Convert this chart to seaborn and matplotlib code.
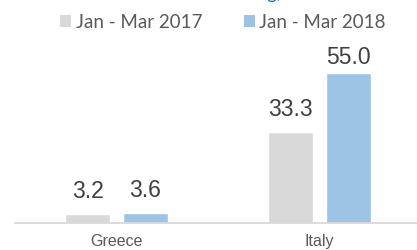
import matplotlib
matplotlib.use("Agg")
import matplotlib.pyplot as plt
import seaborn as sns
import pandas as pd
from matplotlib.patches import Patch

categories = ["Greece", "Italy"]
periods = ["Jan - Mar 2017", "Jan - Mar 2018"]
values_2017 = [3.2, 33.3]
values_2018 = [3.6, 55.0]
colors = ["#d9d9d9", "#9dc3e6"]

df = pd.DataFrame({
    "country": categories * 2,
    "period": [periods[0]] * len(categories) + [periods[1]] * len(categories),
    "value": values_2017 + values_2018,
})

sns.set_theme(style="white")
plt.rcParams["font.family"] = ["Liberation Sans", "DejaVu Sans"]

fig = plt.figure(figsize=(4.17, 2.5), dpi=100)
ax = fig.add_axes([15 / 417, 27 / 250, 406 / 417, 193 / 250])

sns.barplot(data=df, x="country", y="value", hue="period", order=categories,
            hue_order=periods, palette=colors, width=0.571, gap=0.225,
            saturation=1, legend=False, ax=ax, errorbar=None)

ax.set_xlim(-0.5, 1.5)
ax.set_ylim(0, 70.8)
ax.set_xlabel("")
ax.set_ylabel("")
ax.set_yticks([])
for s in ["top", "right", "left"]:
    ax.spines[s].set_visible(False)
ax.spines["bottom"].set_color("#d9d9d9")
ax.spines["bottom"].set_linewidth(1.3)
ax.tick_params(axis="x", length=0, pad=8, labelsize=11.5, labelcolor="#595959")

for container in ax.containers:
    for bar in container:
        h = bar.get_height()
        off = 12 if h < 50 else 6.5
        ax.annotate(f"{h:.1f}", (bar.get_x() + bar.get_width() / 2, h),
                    xytext=(0, off), textcoords="offset points",
                    ha="center", va="baseline", fontsize=16.5, color="#404040",
                    annotation_clip=False)

handles = [Patch(facecolor=c, edgecolor="none", label=p) for c, p in zip(colors, periods)]
fig.legend(handles=handles, loc="center", bbox_to_anchor=(223 / 417, 1 - 22 / 250),
           ncol=2, frameon=False, prop={"family": ["Lato", "DejaVu Sans"], "size": 13.5},
           labelcolor="#595959", handlelength=0.58, handleheight=0.58,
           handletextpad=0.25, columnspacing=2.2, borderpad=0, borderaxespad=0)

fig.text(282 / 417, 1 + 1 / 250, "ing,", ha="right", va="baseline",
         color="#0070c0", fontsize=13, family=["Lato", "DejaVu Sans"])

fig.savefig("out.png", dpi=100)
